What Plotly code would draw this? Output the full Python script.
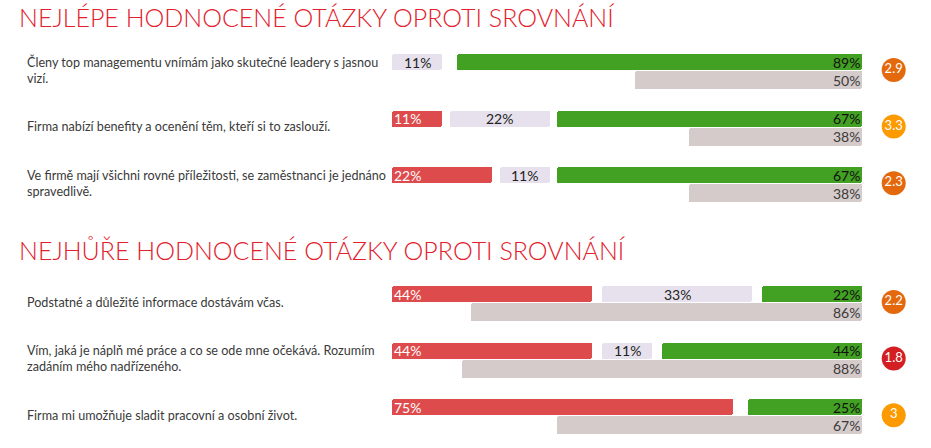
import plotly.graph_objects as go

# page size and where the 0..100 % bar band sits (pixels on the page)
W, H = 931, 448
PX_LEFT, PX_RIGHT = 392, 862
TOTAL = 103.3          # 100 % plus the small gaps between segments

headings = ["NEJLÉPE HODNOCENÉ OTÁZKY OPROTI SROVNÁNÍ",
            "NEJHŮŘE HODNOCENÉ OTÁZKY OPROTI SROVNÁNÍ"]
questions = [
    "Členy top managementu vnímám jako skutečné leadery s jasnou<br>vizí.",
    "Firma nabízí benefity a ocenění těm, kteří si to zaslouží.",
    "Ve firmě mají všichni rovné příležitosti, se zaměstnanci je jednáno<br>spravedlivě.",
    "Podstatné a důležité informace dostávám včas.",
    "Vím, jaká je náplň mé práce a co se ode mne očekává. Rozumím<br>zadáním mého nadřízeného.",
    "Firma mi umožňuje sladit pracovní a osobní život.",
]
section = [0, 0, 0, 1, 1, 1]
negative = [0, 11, 22, 44, 44, 75]
neutral = [11, 22, 11, 33, 11, 0]
positive = [89, 67, 67, 22, 44, 25]
benchmark = [50, 38, 38, 86, 88, 67]
score = [2.9, 3.3, 2.3, 2.2, 1.8, 3]

RED, NEUTRAL, GREEN, GREY = "#de4b4c", "#e6e1ec", "#42a022", "#d5cbcb"
HEAD = "#e3202c"
FONT = "Lato"


def score_color(s):
    if s >= 3:
        return "#fd9a00"
    if s >= 2:
        return "#e4690c"
    return "#d41f22"


upp = TOTAL / (PX_RIGHT - PX_LEFT)
xrange = [-PX_LEFT * upp, TOTAL + (W - PX_RIGHT) * upp]

# vertical placement of rows (page pixels, y axis reversed)
sec_top = [62, 294]
step = 56.6
row_y = []
for i, s in enumerate(section):
    k = section[:i].count(s)
    row_y.append(sec_top[s] + k * step)
bench_y = [y + 18 for y in row_y]
mid_y = [y + 8 for y in row_y]

neg_base, neu_base, pos_base = [], [], []
for r, n, g in zip(negative, neutral, positive):
    neg_base.append(0)
    pos_base.append(TOTAL - g)
    if r == 0:
        neu_base.append(0)
    else:
        neu_base.append((r + TOTAL - g) / 2 - n / 2)

fig = go.Figure()


def add_bars(vals, bases, ys, color, width):
    fig.add_trace(go.Bar(
        orientation="h", x=vals, base=bases, y=ys, width=width,
        marker=dict(color=color, cornerradius=2, line=dict(width=0)),
        hoverinfo="skip", showlegend=False))


add_bars(negative, neg_base, row_y, RED, 16)
add_bars(neutral, neu_base, row_y, NEUTRAL, 16)
add_bars(positive, pos_base, row_y, GREEN, 16)
add_bars(benchmark, [TOTAL - b for b in benchmark], bench_y, GREY, 18)

# score circles
circ_x = (893.7 - PX_LEFT) * upp
fig.add_trace(go.Scatter(
    x=[circ_x] * len(score), y=mid_y, mode="markers+text",
    marker=dict(size=24, color=[score_color(s) for s in score], line=dict(width=0)),
    text=[f"{s:g}" for s in score], textposition="middle center",
    textfont=dict(family=FONT, size=13, color="white"),
    hoverinfo="skip", showlegend=False))

ann = []
vfont = dict(family=FONT, size=14)
for i in range(len(questions)):
    ann.append(dict(x=25 / W, xref="paper", y=mid_y[i], yref="y", text=questions[i],
                    xanchor="left", yanchor="middle", align="left", showarrow=False,
                    font=dict(family=FONT, size=12.6, color="#3a3a3a")))
    if negative[i]:
        ann.append(dict(x=0, y=row_y[i], text=f"{negative[i]}%", xanchor="left",
                        showarrow=False, font=dict(vfont, color="white")))
    if neutral[i]:
        ann.append(dict(x=neu_base[i] + neutral[i] / 2, y=row_y[i], text=f"{neutral[i]}%",
                        xanchor="center", showarrow=False, font=dict(vfont, color="#222")))
    if positive[i]:
        ann.append(dict(x=TOTAL, y=row_y[i], text=f"{positive[i]}%", xanchor="right",
                        showarrow=False, font=dict(vfont, color="#111")))
    ann.append(dict(x=TOTAL, y=bench_y[i], text=f"{benchmark[i]}%", xanchor="right",
                    showarrow=False, font=dict(vfont, color="#3a3a3a")))

head_y = [17, 249.5]
for t, y in zip(headings, head_y):
    ann.append(dict(x=17 / W, xref="paper", y=y, yref="y", text=t, xanchor="left",
                    yanchor="middle", showarrow=False,
                    font=dict(family=FONT, size=25, weight=300, color=HEAD)))

fig.update_layout(
    width=W, height=H, margin=dict(l=0, r=0, t=0, b=0),
    paper_bgcolor="white", plot_bgcolor="white",
    barmode="overlay", bargap=0,
    xaxis=dict(range=xrange, visible=False, fixedrange=True),
    yaxis=dict(range=[H, 0], visible=False, fixedrange=True),
    annotations=ann,
)

# drop the default body margin so the figure fills the window exactly
fig.write_html("out.html", config={"displayModeBar": False},
               post_script="document.body.style.margin='0';")
